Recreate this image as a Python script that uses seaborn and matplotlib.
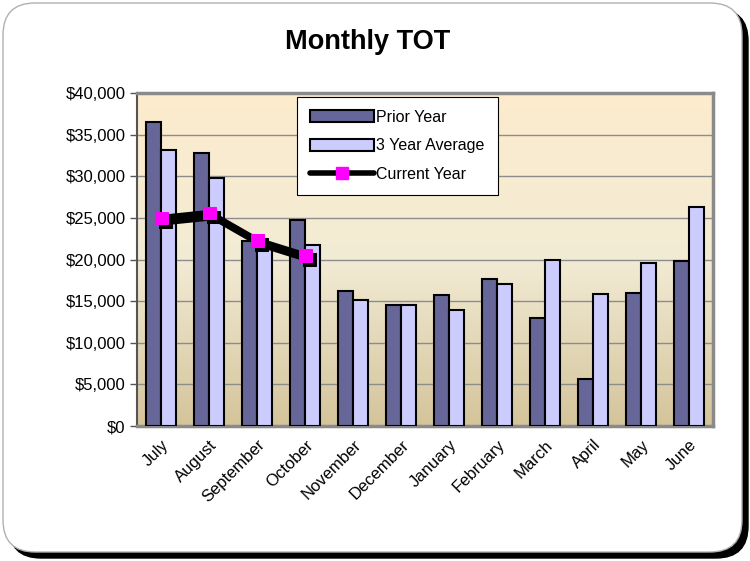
import numpy as np
import pandas as pd
import matplotlib
matplotlib.use('Agg')
import matplotlib.pyplot as plt
import matplotlib.patheffects as pe
from matplotlib.patches import FancyBboxPatch
from matplotlib.lines import Line2D
from matplotlib.transforms import IdentityTransform
from matplotlib.ticker import FuncFormatter, FixedLocator
import seaborn as sns

months = ['July', 'August', 'September', 'October', 'November', 'December',
          'January', 'February', 'March', 'April', 'May', 'June']
prior_year = [36500, 32800, 22200, 24700, 16200, 14600, 15800, 17700, 13000, 5700, 16000, 19800]
three_year_avg = [33200, 29800, 21500, 21700, 15100, 14600, 13900, 17100, 19900, 15900, 19600, 26300]
current_months = ['July', 'August', 'September', 'October']
current_year = [25000, 25600, 22300, 20500]


# black drop shadow that also fills the square markers
class DropShadow(pe.AbstractPathEffect):
    def draw_path(self, renderer, gc, tpath, affine, rgbFace=None):
        gc0 = renderer.new_gc()
        gc0.copy_properties(gc)
        gc0.set_foreground('black')
        face = None if rgbFace is None else (0, 0, 0)
        renderer.draw_path(gc0, tpath, affine + self._offset_transform(renderer), face)
        gc0.restore()


sns.set_style('white')
plt.rcParams['font.family'] = ['Liberation Sans', 'DejaVu Sans']
plt.rcParams['text.color'] = 'black'
plt.rcParams['xtick.color'] = 'black'
plt.rcParams['ytick.color'] = 'black'

fig = plt.figure(figsize=(7.5, 5.61), dpi=100)
fig.patch.set_facecolor('white')

# rounded frame with a drop shadow
shadow = FancyBboxPatch((9, 3), 739, 549, boxstyle='round,pad=0,rounding_size=32',
                        transform=IdentityTransform(), facecolor='black', edgecolor='black', zorder=-2)
frame = FancyBboxPatch((3, 9), 739, 549, boxstyle='round,pad=0,rounding_size=32',
                       transform=IdentityTransform(), facecolor='white', edgecolor='#b0b0b0',
                       linewidth=1, zorder=-1)
fig.patches.extend([shadow, frame])

pos = [0.183, 0.2406, 0.768, 0.5934]

# gradient background axes
bg = fig.add_axes(pos, zorder=1)
top_c = np.array([253, 236, 205]) / 255
mid_c = np.array([242, 235, 212]) / 255
bot_c = np.array([212, 196, 155]) / 255
t = np.linspace(0, 1, 256)[:, None]
grad = np.where(t < 0.5, top_c + (mid_c - top_c) * (t / 0.5), mid_c + (bot_c - mid_c) * ((t - 0.5) / 0.5))
bg.imshow(grad[:, None, :], aspect='auto', extent=[0, 1, 0, 1])
bg.set_axis_off()

ax = fig.add_axes(pos, zorder=2)
ax.patch.set_alpha(0)

df = pd.DataFrame({
    'Month': months * 2,
    'Series': ['Prior Year'] * len(months) + ['3 Year Average'] * len(months),
    'Value': prior_year + three_year_avg,
})
sns.barplot(data=df, x='Month', y='Value', hue='Series', order=months,
            palette=['#666699', '#CCCCFF'], saturation=1, width=0.62,
            edgecolor='black', linewidth=1.5, ax=ax, zorder=3)

cur = pd.DataFrame({'Month': current_months, 'Value': current_year})
sns.lineplot(data=cur, x='Month', y='Value', sort=False, color='black', linewidth=4.5,
             marker='s', markersize=9, markerfacecolor='#FF00FF', markeredgecolor='#FF00FF',
             ax=ax, zorder=5, legend=False,
             path_effects=[DropShadow(offset=(3, -3)), pe.Normal()])

ax.set_ylim(0, 40000)
ax.set_xlim(-0.5, len(months) - 0.5)
ax.yaxis.set_major_locator(FixedLocator(np.arange(0, 40001, 5000)))
ax.yaxis.set_major_formatter(FuncFormatter(lambda v, p: f'${v:,.0f}'))
ax.grid(axis='y', color='#8c8c8c', linewidth=1, zorder=0)
ax.set_axisbelow(True)
ax.set_xlabel('')
ax.set_ylabel('')

ax.set_xticks(range(len(months)))
ax.set_xticklabels(months, rotation=45, ha='right', rotation_mode='anchor', fontsize=12)
ax.xaxis.set_minor_locator(FixedLocator(np.arange(-0.5, len(months), 1)))
ax.tick_params(axis='x', which='major', length=0, pad=8)
ax.tick_params(axis='x', which='minor', length=5, width=1, color='#555555', direction='out')
ax.tick_params(axis='y', length=5, width=1, color='#555555', direction='out', labelsize=12, left=True)

for side in ['top', 'right', 'bottom']:
    ax.spines[side].set_color('#8a8a8a')
    ax.spines[side].set_linewidth(2.5)
ax.spines['left'].set_color('#555555')
ax.spines['left'].set_linewidth(1.5)

# legend: bars from seaborn, plain line handle without the shadow
h, l = ax.get_legend_handles_labels()
handles = [h[l.index('Prior Year')], h[l.index('3 Year Average')],
           Line2D([], [], color='black', linewidth=4, marker='s', markersize=8,
                  markerfacecolor='#FF00FF', markeredgecolor='#FF00FF')]
labels = ['Prior Year', '3 Year Average', 'Current Year']
leg = ax.legend(handles, labels, loc='upper left', bbox_to_anchor=(0.278, 0.988),
                borderaxespad=0, frameon=True, fancybox=False, edgecolor='black',
                framealpha=1, fontsize=11.5, handlelength=4.0, handleheight=0.8,
                labelspacing=0.85, borderpad=0.8, handletextpad=0.15)
leg.get_frame().set_linewidth(0.8)
leg.set_zorder(10)

fig.text(0.49, 0.925, 'Monthly TOT', ha='center', va='center', fontsize=19.5, fontweight='bold')

fig.savefig('out.png', dpi=100)
